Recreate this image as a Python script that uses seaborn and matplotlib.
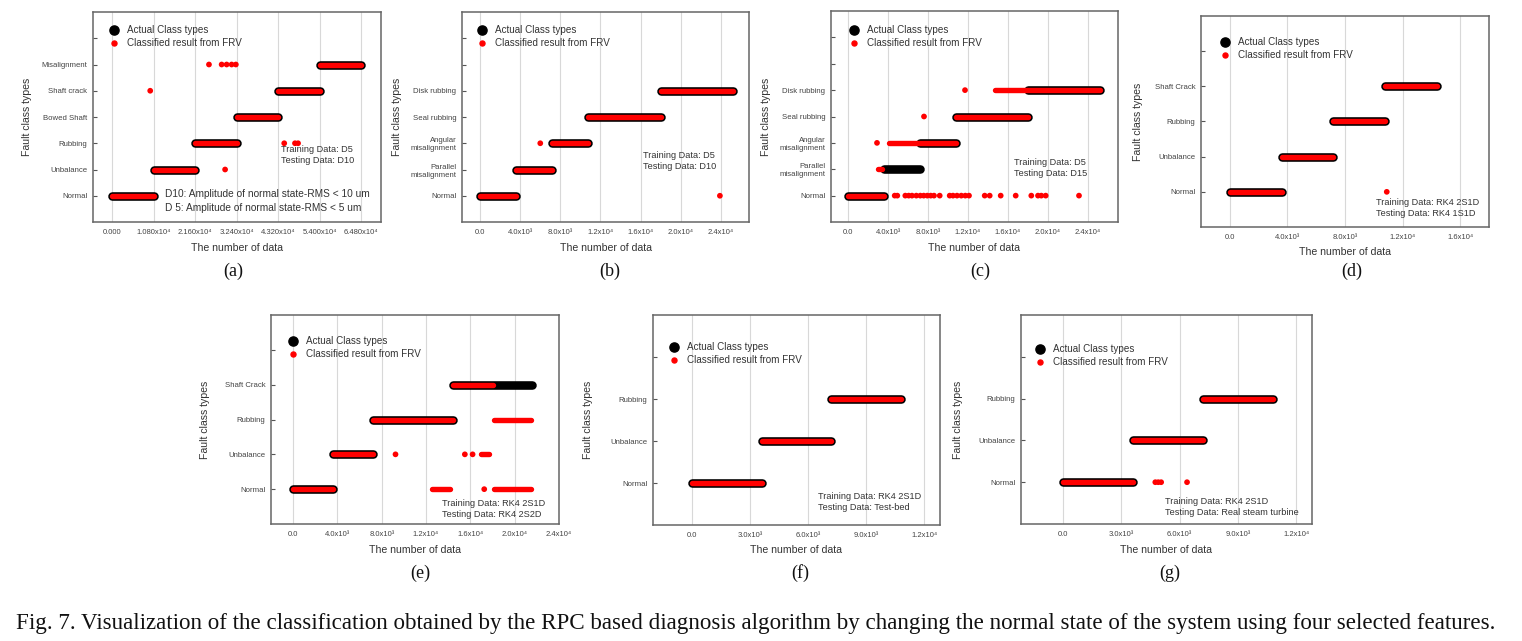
import numpy as np
import pandas as pd
import seaborn as sns
import matplotlib.pyplot as plt
from matplotlib.lines import Line2D

# ---- data ----
# (a) training D5 / testing D10
a_classes = ["Normal", "Unbalance", "Rubbing", "Bowed Shaft", "Shaft crack", "Misalignment"]
a_act_cls = [0, 1, 2, 3, 4, 5]
a_act_start = [0, 10800, 21600, 32400, 43200, 54000]
a_act_end = [10800, 21600, 32400, 43200, 54000, 64800]
a_red_cls = [0, 1, 2, 3, 4, 5]
a_red_start = [0, 10800, 21600, 32400, 43200, 54000]
a_red_end = [10800, 21600, 32400, 43200, 54000, 64800]
a_dot_cls = [1, 2, 2, 2, 4, 5, 5, 5, 5, 5]
a_dot_x = [29400, 44800, 47600, 48400, 9900, 25200, 28500, 29800, 31100, 32200]
a_xticks = [0, 10800, 21600, 32400, 43200, 54000, 64800]
a_xlabels = ["0.000", "1.080x10⁴", "2.160x10⁴", "3.240x10⁴", "4.320x10⁴", "5.400x10⁴", "6.480x10⁴"]

# (b) training D5 / testing D10
b_classes = ["Normal", "Parallel\nmisalignment", "Angular\nmisalignment", "Seal rubbing", "Disk rubbing"]
b_act_cls = [0, 1, 2, 3, 4]
b_act_start = [0, 3600, 7200, 10800, 18000]
b_act_end = [3600, 7200, 10800, 18000, 25200]
b_red_cls = [0, 1, 2, 3, 4]
b_red_start = [0, 3600, 7200, 10800, 18000]
b_red_end = [3600, 7200, 10800, 18000, 25200]
b_dot_cls = [2, 0]
b_dot_x = [6000, 23900]
b_xticks = [0, 4000, 8000, 12000, 16000, 20000, 24000]
b_xlabels = ["0.0", "4.0x10³", "8.0x10³", "1.2x10⁴", "1.6x10⁴", "2.0x10⁴", "2.4x10⁴"]

# (c) training D5 / testing D15
c_classes = b_classes
c_act_cls = [0, 1, 2, 3, 4]
c_act_start = [0, 3600, 7200, 10800, 18000]
c_act_end = [3600, 7200, 10800, 18000, 25200]
c_red_cls = [0, 1, 2, 3, 4]
c_red_start = [0, 3000, 4100, 10800, 14700]
c_red_end = [3600, 3400, 10800, 18000, 25200]
c_dot_cls = [4, 3, 2] + [0] * 27
c_dot_x = [11700, 7600, 2900,
           4670, 4930, 5730, 6070, 6400, 6830, 7230, 7570, 7930, 8270, 8600, 9170,
           10170, 10500, 10900, 11330, 11730, 12100, 13670, 14170, 15270, 16770,
           18330, 19000, 19330, 19770, 23100]
c_xticks = b_xticks
c_xlabels = b_xlabels

# (d) training RK4 2S1D / testing RK4 1S1D
d_classes = ["Normal", "Unbalance", "Rubbing", "Shaft Crack"]
d_act_cls = [0, 1, 2, 3]
d_act_start = [0, 3600, 7200, 10800]
d_act_end = [3600, 7200, 10800, 14400]
d_red_cls = [0, 1, 2, 3]
d_red_start = [0, 3600, 7200, 10800]
d_red_end = [3600, 7200, 10800, 14400]
d_dot_cls = [0]
d_dot_x = [10900]
d_xticks = [0, 4000, 8000, 12000, 16000]
d_xlabels = ["0.0", "4.0x10³", "8.0x10³", "1.2x10⁴", "1.6x10⁴"]

# (e) training RK4 2S1D / testing RK4 2S2D
e_classes = d_classes
e_act_cls = [0, 1, 2, 3]
e_act_start = [0, 3600, 7200, 14400]
e_act_end = [3600, 7200, 14400, 21600]
e_red_cls = [0, 1, 2, 3, 2, 0, 0, 1]
e_red_start = [0, 3600, 7200, 14400, 18100, 12500, 18100, 17000]
e_red_end = [3600, 7200, 14400, 18000, 21500, 14200, 21500, 17700]
e_dot_cls = [1, 1, 1, 0]
e_dot_x = [9240, 15500, 16200, 17250]
e_xticks = b_xticks
e_xlabels = b_xlabels

# (f) training RK4 2S1D / testing test-bed
f_classes = ["Normal", "Unbalance", "Rubbing"]
f_act_cls = [0, 1, 2]
f_act_start = [0, 3600, 7200]
f_act_end = [3600, 7200, 10800]
f_red_cls = [0, 1, 2]
f_red_start = [0, 3600, 7200]
f_red_end = [3600, 7200, 10800]
f_dot_cls = []
f_dot_x = []
f_xticks = [0, 3000, 6000, 9000, 12000]
f_xlabels = ["0.0", "3.0x10³", "6.0x10³", "9.0x10³", "1.2x10⁴"]

# (g) training RK4 2S1D / testing real steam turbine
g_classes = f_classes
g_act_cls = [0, 1, 2]
g_act_start = [0, 3600, 7200]
g_act_end = [3600, 7200, 10800]
g_red_cls = [0, 1, 2]
g_red_start = [0, 3600, 7200]
g_red_end = [3600, 7200, 10800]
g_dot_cls = [0, 0, 0, 0]
g_dot_x = [4750, 4900, 5050, 6380]
g_xticks = f_xticks
g_xlabels = f_xlabels

letters = ["(a)", "(b)", "(c)", "(d)", "(e)", "(f)", "(g)"]
notes = ["Training Data: D5\nTesting Data: D10",
         "Training Data: D5\nTesting Data: D10",
         "Training Data: D5\nTesting Data: D15",
         "Training Data: RK4 2S1D\nTesting Data: RK4 1S1D",
         "Training Data: RK4 2S1D\nTesting Data: RK4 2S2D",
         "Training Data: RK4 2S1D\nTesting Data: Test-bed",
         "Training Data: RK4 2S1D\nTesting Data: Real steam turbine"]
a_extra = "D10: Amplitude of normal state-RMS < 10 um\nD 5: Amplitude of normal state-RMS < 5 um"
caption = ("Fig. 7. Visualization of the classification obtained by the RPC based diagnosis algorithm "
           "by changing the normal state of the system using four selected features.")

# ---- layout (pixels in a 1522x641 canvas) ----
W, H = 1522, 641
panels = [
    dict(box=(93, 12, 381, 222), xlim=(-5000, 70000), ylim=(-1, 7), classes=a_classes,
         act=(a_act_cls, a_act_start, a_act_end), red=(a_red_cls, a_red_start, a_red_end),
         dots=(a_dot_cls, a_dot_x), ticks=(a_xticks, a_xlabels),
         leg=(114, 31), note=(281, 155), ylab=27, xlab=248, let=(233, 271)),
    dict(box=(462, 12, 749, 222), xlim=(-1800, 26800), ylim=(-1, 7), classes=b_classes,
         act=(b_act_cls, b_act_start, b_act_end), red=(b_red_cls, b_red_start, b_red_end),
         dots=(b_dot_cls, b_dot_x), ticks=(b_xticks, b_xlabels),
         leg=(482, 31), note=(643, 161), ylab=397, xlab=248, let=(610, 271)),
    dict(box=(831, 11, 1118, 222), xlim=(-1700, 27000), ylim=(-1, 7), classes=c_classes,
         act=(c_act_cls, c_act_start, c_act_end), red=(c_red_cls, c_red_start, c_red_end),
         dots=(c_dot_cls, c_dot_x), ticks=(c_xticks, c_xlabels),
         leg=(854, 31), note=(1014, 168), ylab=766, xlab=248, let=(980, 271)),
    dict(box=(1201, 16, 1489, 227), xlim=(-2000, 18000), ylim=(-1, 5), classes=d_classes,
         act=(d_act_cls, d_act_start, d_act_end), red=(d_red_cls, d_red_start, d_red_end),
         dots=(d_dot_cls, d_dot_x), ticks=(d_xticks, d_xlabels),
         leg=(1225, 43), note=(1376, 208), ylab=1138, xlab=252, let=(1352, 271)),
    dict(box=(271, 315, 559, 524), xlim=(-2000, 24000), ylim=(-1, 5), classes=e_classes,
         act=(e_act_cls, e_act_start, e_act_end), red=(e_red_cls, e_red_start, e_red_end),
         dots=(e_dot_cls, e_dot_x), ticks=(e_xticks, e_xlabels),
         leg=(293, 342), note=(442, 509), ylab=205, xlab=550, let=(420, 573)),
    dict(box=(653, 315, 940, 525), xlim=(-2000, 12800), ylim=(-1, 4), classes=f_classes,
         act=(f_act_cls, f_act_start, f_act_end), red=(f_red_cls, f_red_start, f_red_end),
         dots=(f_dot_cls, f_dot_x), ticks=(f_xticks, f_xlabels),
         leg=(674, 348), note=(818, 502), ylab=588, xlab=550, let=(800, 573)),
    dict(box=(1021, 315, 1312, 524), xlim=(-2150, 12800), ylim=(-1, 4), classes=g_classes,
         act=(g_act_cls, g_act_start, g_act_end), red=(g_red_cls, g_red_start, g_red_end),
         dots=(g_dot_cls, g_dot_x), ticks=(g_xticks, g_xlabels),
         leg=(1040, 350), note=(1165, 507), ylab=958, xlab=550, let=(1170, 573)),
]

sns.set_theme(style="white")
plt.rcParams['font.family'] = ['Liberation Sans', 'DejaVu Sans']

PX = 72 / 100  # points per pixel at dpi 100
fig = plt.figure(figsize=(W / 100, H / 100), dpi=100)


def seg_frame(cls, start, end):
    rows = []
    for i, (c, s, e) in enumerate(zip(cls, start, end)):
        rows.append({'x': s, 'y': c, 'seg': i})
        rows.append({'x': e, 'y': c, 'seg': i})
    return pd.DataFrame(rows)


for k, p in enumerate(panels):
    l, t, r, b = p['box']
    ax = fig.add_axes([l / W, 1 - b / H, (r - l) / W, (b - t) / H])

    def frac(x, y):
        return (x - l) / (r - l), 1 - (y - t) / (b - t)

    # actual class (black, thick) and classified result (red) as strings of samples
    act = seg_frame(*p['act'])
    sns.lineplot(data=act, x='x', y='y', units='seg', estimator=None, sort=False,
                 color='black', lw=8.6 * PX, solid_capstyle='round', ax=ax, legend=False)
    red = seg_frame(*p['red'])
    sns.lineplot(data=red, x='x', y='y', units='seg', estimator=None, sort=False,
                 color='#ff0000', lw=5.4 * PX, solid_capstyle='round', ax=ax, legend=False)
    dcls, dx = p['dots']
    if len(dx):
        sns.scatterplot(x=dx, y=dcls, color='#ff0000', s=17, edgecolor='none', ax=ax, zorder=4)

    ax.set_xlim(*p['xlim'])
    ax.set_ylim(*p['ylim'])
    nt = int(p['ylim'][1])
    ax.set_yticks(range(nt))
    ax.set_yticklabels(list(p['classes']) + [''] * (nt - len(p['classes'])),
                       fontsize=5.6, color='#444')
    xt, xl = p['ticks']
    ax.set_xticks(xt)
    ax.set_xticklabels(xl, fontsize=5.5, color='#444')
    ax.tick_params(axis='y', direction='in', length=3, width=0.8, color='#555', left=True, pad=4)
    ax.tick_params(axis='x', length=0, pad=5)
    ax.grid(axis='x', color='#d8d8d8', lw=0.8)
    ax.set_axisbelow(True)
    for sp in ax.spines.values():
        sp.set_color('#666666')
        sp.set_linewidth(1.1)

    # label anchors: xlabel by its top edge, ylabel by its right edge
    ax.set_xlabel("The number of data", fontsize=7.6, color='#333')
    ax.set_ylabel("Fault class types", fontsize=7.6, color='#333')
    ax.xaxis.set_label_coords(0.5, frac(0, p['xlab'] - 5)[1])
    ax.yaxis.set_label_coords(frac(p['ylab'] + 5, 0)[0], 0.5)

    # legend
    handles = [Line2D([], [], marker='o', ls='', color='black', markersize=6.6),
               Line2D([], [], marker='o', ls='', color='#ff0000', markersize=3.6)]
    fs_px = 7.1 / PX
    lx, ly = frac(p['leg'][0] - 0.5 * fs_px, p['leg'][1] - 0.6 * fs_px)
    ax.legend(handles, ["Actual Class types", "Classified result from FRV"],
              loc='upper left', bbox_to_anchor=(lx, ly), frameon=False, fontsize=7.1,
              handlelength=1.0, handletextpad=0.8, labelspacing=0.3,
              borderpad=0, borderaxespad=0, labelcolor='#333')

    nx, ny = frac(*p['note'])
    ax.text(nx, ny, notes[k], transform=ax.transAxes, ha='left', va='center',
            fontsize=6.6, color='#333', linespacing=1.25)
    if k == 0:
        ex, ey = frac(165, 201)
        ax.text(ex, ey, a_extra, transform=ax.transAxes, ha='left', va='center',
                fontsize=7.3, color='#333', linespacing=1.45)

    fig.text(p['let'][0] / W, 1 - p['let'][1] / H, letters[k], ha='center', va='center',
             fontsize=13, family='Liberation Serif', color='#111')

fig.text(756 / W, 1 - 623 / H, caption, ha='center', va='center',
         fontsize=16.6, family='Liberation Serif', color='#111')

fig.savefig('out.png', dpi=100)
